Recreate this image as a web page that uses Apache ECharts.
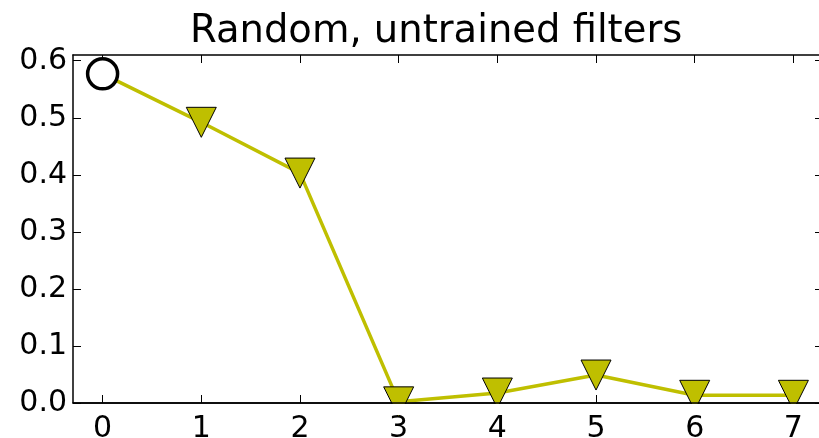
<!DOCTYPE html>
<html>
<head>
<meta charset="utf-8">
<script src="https://cdn.jsdelivr.net/npm/echarts@6/dist/echarts.min.js"></script>
<style>html,body{margin:0;padding:0;background:#fff}#c{width:819px;height:438px}</style>
</head>
<body>
<div id="c"></div>
<script>
const titleText = 'Random, untrained filters';
const xValues = [0, 1, 2, 3, 4, 5, 6, 7];
const yValues = [0.577, 0.492, 0.403, 0.002, 0.0175, 0.049, 0.0135, 0.0135];
const xTicks = [0, 1, 2, 3, 4, 5, 6, 7];
const yTicks = [0.0, 0.1, 0.2, 0.3, 0.4, 0.5, 0.6];

const FONT = 'DejaVu Sans';
const chart = echarts.init(document.getElementById('c'), null, {renderer: 'canvas'});

const lineData = xValues.map((x, i) => i === 0
  ? {value: [x, yValues[i]], symbol: 'none'}
  : [x, yValues[i]]);

const axisCommon = {
  type: 'value',
  axisLine: {show: true, onZero: false, lineStyle: {color: '#000', width: 1.5}},
  axisTick: {show: true, inside: true, length: 8, lineStyle: {color: '#000', width: 1}},
  splitLine: {show: false}
};

chart.setOption({
  animation: false,
  backgroundColor: '#fff',
  title: {
    text: titleText, left: 185, top: 7,
    textStyle: {fontFamily: FONT, fontSize: 38.5, fontWeight: 'normal', color: '#000'}
  },
  grid: {left: 73, top: 55, right: -4, bottom: 35, containLabel: false, outerBoundsMode: 'none'},
  xAxis: [
    Object.assign({}, axisCommon, {
      position: 'bottom', min: -0.3, max: 7.3,
      axisTick: Object.assign({}, axisCommon.axisTick, {customValues: xTicks}),
      axisLabel: {show: true, customValues: xTicks, margin: 11, fontFamily: FONT, fontSize: 30, color: '#000',
        formatter: v => String(v)}
    }),
    Object.assign({}, axisCommon, {
      position: 'top', min: -0.3, max: 7.3,
      axisTick: Object.assign({}, axisCommon.axisTick, {customValues: xTicks}),
      axisLabel: {show: false}
    })
  ],
  yAxis: [
    Object.assign({}, axisCommon, {
      position: 'left', min: 0, max: 0.61,
      axisTick: Object.assign({}, axisCommon.axisTick, {customValues: yTicks}),
      axisLabel: {show: true, customValues: yTicks, margin: 6, fontFamily: FONT, fontSize: 30, color: '#000',
        formatter: v => Number(v).toFixed(1)}
    }),
    Object.assign({}, axisCommon, {
      position: 'right', min: 0, max: 0.61,
      axisTick: Object.assign({}, axisCommon.axisTick, {customValues: yTicks}),
      axisLabel: {show: false}
    })
  ],
  series: [
    {
      type: 'line',
      data: lineData,
      xAxisIndex: 0, yAxisIndex: 0,
      clip: false,
      z: 3,
      lineStyle: {color: '#bfbf00', width: 3.5},
      symbol: 'triangle',
      symbolRotate: 180,
      symbolSize: [30, 30],
      showAllSymbol: true,
      itemStyle: {color: '#bfbf00', borderColor: '#000', borderWidth: 1}
    },
    {
      type: 'scatter',
      data: [[xValues[0], yValues[0]]],
      xAxisIndex: 0, yAxisIndex: 0,
      z: 4,
      symbol: 'circle',
      symbolSize: 30,
      itemStyle: {color: '#fff', borderColor: '#000', borderWidth: 3.5, opacity: 1}
    }
  ],
  graphic: [
    {type: 'rect', z: 100, shape: {x: 74, y: 404, width: 760, height: 11}, style: {fill: '#fff'}},
    {type: 'line', z: 101, shape: {x1: 73, y1: 403, x2: 823, y2: 403}, style: {stroke: '#000', lineWidth: 1.5}}
  ]
});
</script>
</body>
</html>
